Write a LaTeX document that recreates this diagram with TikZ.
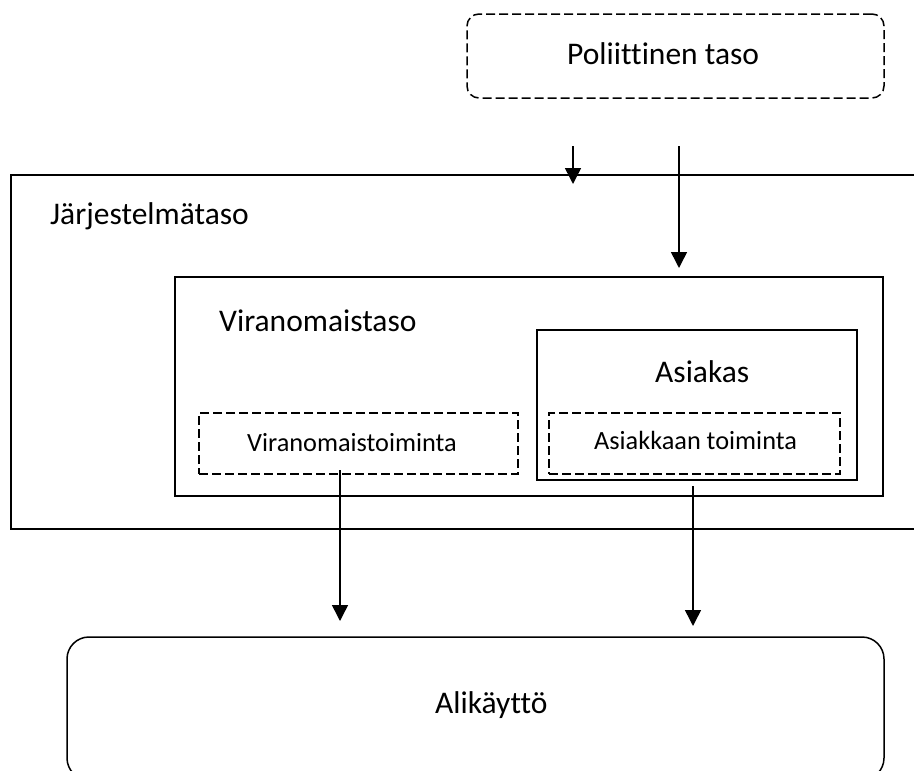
\documentclass[tikz,border=0pt]{standalone}
\usepackage{fontspec}
\setmainfont{Carlito}[Ligatures={NoCommon,NoRequired,NoContextual}]
\usetikzlibrary{arrows.meta}
\tikzset{
  frame/.style={draw, line width=1.5pt, inner sep=0pt, rectangle},
  dashframe/.style={frame, dash pattern=on 9pt off 4pt},
  lbl/.style={inner sep=0pt, anchor=base west, font=\fontsize{31.5}{36}\selectfont},
  smalllbl/.style={lbl, font=\fontsize{26.3}{30}\selectfont},
  arr/.style={line width=1.5pt, -{Triangle[width=16pt,length=16pt]}}
}
\begin{document}
\begin{tikzpicture}[x=1pt,y=-1pt]
\useasboundingbox (0,0) rectangle (914,771);
% boxes
\node[dashframe, rounded corners=12pt, minimum width=417pt, minimum height=84pt] (pol) at (675.5,56) {};
\node[frame, minimum width=919pt, minimum height=354pt] (jar) at (470.5,352) {};
\node[frame, minimum width=708pt, minimum height=219pt] (vir) at (529,386.5) {};
\node[frame, minimum width=320pt, minimum height=150pt] (asi) at (697,405) {};
\node[dashframe, minimum width=319pt, minimum height=61pt] (virt) at (358.5,443.5) {};
\node[dashframe, minimum width=291pt, minimum height=61pt] (asit) at (694.5,443.5) {};
\node[frame, rounded corners=22pt, minimum width=817pt, minimum height=143pt] (ali) at (475.5,708.5) {};
% labels
\node[lbl] (tpol) at (567,64) {Poliittinen taso};
\node[lbl] (tjar) at (50,224) {Järjestelmätaso};
\node[lbl] (tvir) at (219,331) {Viranomaistaso};
\node[lbl] (tasi) at (655,382) {Asiakas};
\node[smalllbl] (tvirt) at (247,451) {Viranomaistoiminta};
\node[smalllbl] (tasit) at (594,449) {Asiakkaan toiminta};
\node[lbl] (tali) at (435,713) {Alikäyttö};
% connector ends
\coordinate (a1s) at (573,146);
\coordinate (a1e) at (573,184);
\coordinate (a2s) at (679,146);
\coordinate (a2e) at (679,268);
\coordinate (a3s) at (340,470);
\coordinate (a3e) at (340,621);
\coordinate (a4s) at (693,486);
\coordinate (a4e) at (693,626);
\draw[arr] (a1s) -- (a1e);
\draw[arr] (a2s) -- (a2e);
\draw[arr] (a3s) -- (a3e);
\draw[arr] (a4s) -- (a4e);
\end{tikzpicture}
\end{document}
